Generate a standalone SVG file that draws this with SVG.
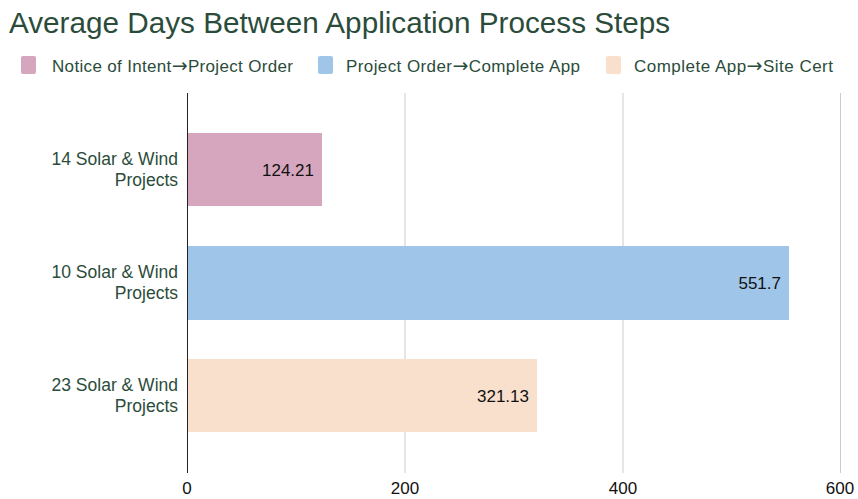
<svg xmlns="http://www.w3.org/2000/svg" width="858" height="499" viewBox="0 0 858 499">
<style>
text{font-family:"Liberation Sans",Arial,sans-serif}
.title{font-size:29.7px;fill:#2b4c3a}
.leg{font-size:17px;fill:#2b4c3a}
.arr{font-family:"DejaVu Sans",sans-serif;font-size:19px}
.cat{font-size:17.5px;fill:#2b4c3a;text-anchor:end}
.val{font-size:17px;fill:#111;text-anchor:end}
.tick{font-size:17px;fill:#111;text-anchor:middle}
.grid{stroke:#cccccc;stroke-width:1}
</style>
<rect width="858" height="499" fill="#fff"/>
<text class="title" x="9" y="33">Average Days Between Application Process Steps</text>
<g id="legend">
<rect x="21" y="56" width="15" height="18" rx="2" fill="#d5a6bd"/>
<text class="leg" x="52" y="72" textLength="241" lengthAdjust="spacing">Notice of Intent<tspan class="arr">→</tspan>Project Order</text>
<rect x="318" y="56" width="15" height="18" rx="2" fill="#9fc5e8"/>
<text class="leg" x="346" y="72" textLength="234" lengthAdjust="spacing">Project Order<tspan class="arr">→</tspan>Complete App</text>
<rect x="606" y="56" width="15" height="18" rx="2" fill="#f9e0cc"/>
<text class="leg" x="634" y="72" textLength="199" lengthAdjust="spacing">Complete App<tspan class="arr">→</tspan>Site Cert</text>
</g>
<g id="grid">
<line class="grid" x1="405" y1="93" x2="405" y2="473"/>
<line class="grid" x1="623" y1="93" x2="623" y2="473"/>
<line class="grid" x1="840.5" y1="93" x2="840.5" y2="473"/>
</g>
<g id="bar1">
<rect x="187" y="133" width="135" height="73" fill="#d5a6bd"/>
<text class="val" x="314" y="176">124.21</text>
<text class="cat" x="178" y="165">14 Solar &amp; Wind</text>
<text class="cat" x="178" y="186">Projects</text>
</g>
<g id="bar2">
<rect x="187" y="246" width="602" height="74" fill="#9fc5e8"/>
<text class="val" x="781" y="289">551.7</text>
<text class="cat" x="178" y="278">10 Solar &amp; Wind</text>
<text class="cat" x="178" y="299">Projects</text>
</g>
<g id="bar3">
<rect x="187" y="359" width="350" height="73" fill="#f9e0cc"/>
<text class="val" x="529" y="402">321.13</text>
<text class="cat" x="178" y="391">23 Solar &amp; Wind</text>
<text class="cat" x="178" y="412">Projects</text>
</g>
<g id="axis">
<line x1="187.5" y1="93" x2="187.5" y2="473" stroke="#222" stroke-width="1"/>
<text class="tick" x="187" y="494">0</text>
<text class="tick" x="405" y="494">200</text>
<text class="tick" x="623" y="494">400</text>
<text class="tick" x="840" y="494">600</text>
</g>
</svg>
